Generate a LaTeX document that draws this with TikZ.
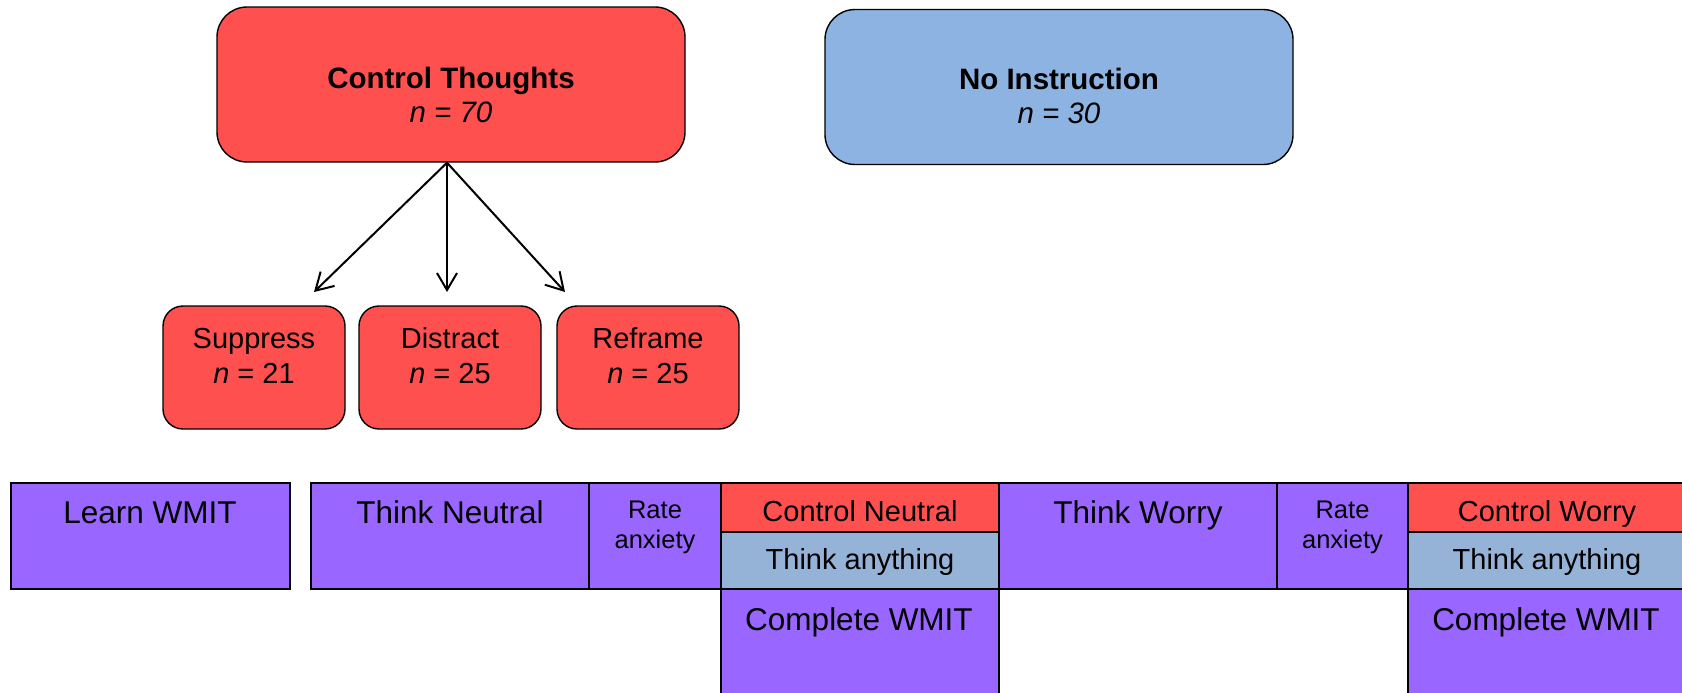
\documentclass[tikz,border=0pt]{standalone}
\usepackage{fontspec}
\setmainfont{Liberation Sans}
\usetikzlibrary{arrows.meta,positioning}
\definecolor{ctred}{RGB}{255,80,80}
\definecolor{niblue}{RGB}{141,179,226}
\definecolor{wmpurple}{RGB}{153,102,255}
\definecolor{anyblue}{RGB}{149,179,215}

\begin{document}
\begin{tikzpicture}[x=0.5pt,y=-0.5pt,
  group/.style={draw,rounded corners=15pt,line width=0.7pt,inner sep=0pt,
    minimum width=234pt,minimum height=77.5pt},
  cond/.style={draw,rounded corners=10pt,line width=0.7pt,fill=ctred,inner sep=0pt,
    minimum width=91pt,minimum height=61.5pt},
  stage/.style={draw,line width=0.7pt,fill=wmpurple},
  head/.style={font=\fontsize{14.75}{17}\selectfont,align=center,anchor=base,inner sep=0pt},
  condtext/.style={font=\fontsize{14.5}{17.5}\selectfont,align=center,anchor=base,inner sep=0pt},
  big/.style={font=\fontsize{15.75}{18}\selectfont,anchor=base,inner sep=0pt},
  mid/.style={font=\fontsize{14.5}{17}\selectfont,anchor=base,inner sep=0pt},
  small/.style={font=\fontsize{12.75}{15}\selectfont,align=center,anchor=base,inner sep=0pt},
  arr/.style={-{Straight Barb[length=8.5pt,width=10pt]},line width=1pt}]

  \useasboundingbox (0,0) rectangle (1682,692);

  % Groups
  \node[group,fill=ctred] (ctrl) at (451,84.5) {};
  \node[group,fill=niblue] (noinst) at (1059,87) {};
  \node[head] (ctrltxt) at (451,122) {\textbf{Control Thoughts}\\\textit{n = 70}};
  \node[head] (noinsttxt) at (1059,123) {\textbf{No Instruction}\\\textit{n = 30}};

  % Conditions
  \node[cond] (supp) at (254,367.5) {};
  \node[cond] (dist) at (450,367.5) {};
  \node[cond] (refr) at (648,367.5) {};
  \node[condtext] (supptxt) at (254,383) {Suppress\\\textit{n} = 21};
  \node[condtext] (disttxt) at (450,383) {Distract\\\textit{n} = 25};
  \node[condtext] (refrtxt) at (648,383) {Reframe\\\textit{n} = 25};

  % Arrows to conditions
  \coordinate (supptip) at (314,292);
  \coordinate (disttip) at (447,292);
  \coordinate (refrtip) at (565,292);
  \foreach \t in {supptip,disttip,refrtip}
    \draw[arr] ([xshift=-2pt]ctrl.south) -- (\t);

  % Procedure row
  \path[stage] (11,483) rectangle (290,589);
  \path[stage] (311,483) rectangle (589,589);
  \path[stage] (589,483) rectangle (721,589);
  \path[stage,fill=ctred] (721,483) rectangle (999,532);
  \path[stage,fill=anyblue] (721,532) rectangle (999,589);
  \path[stage] (721,589) rectangle (999,700);
  \path[stage] (999,483) rectangle (1277,589);
  \path[stage] (1277,483) rectangle (1408,589);
  \path[stage,fill=ctred] (1408,483) rectangle (1686,532);
  \path[stage,fill=anyblue] (1408,532) rectangle (1686,589);
  \path[stage] (1408,589) rectangle (1686,700);

  % Procedure labels
  \node[big] (learn) at (150,523) {Learn WMIT};
  \node[big] (neutral) at (450,523) {Think Neutral};
  \node[small] (rate1) at (655,548) {Rate\\anxiety};
  \node[mid] (ctrlneu) at (860,521) {Control Neutral};
  \node[mid] (any1) at (860,569) {Think anything};
  \node[big] (done1) at (859,630) {Complete WMIT};
  \node[big] (worry) at (1138,523) {Think Worry};
  \node[small] (rate2) at (1342.5,548) {Rate\\anxiety};
  \node[mid] (ctrlwor) at (1547,521) {Control Worry};
  \node[mid] (any2) at (1547,569) {Think anything};
  \node[big] (done2) at (1546,630) {Complete WMIT};
\end{tikzpicture}
\end{document}
